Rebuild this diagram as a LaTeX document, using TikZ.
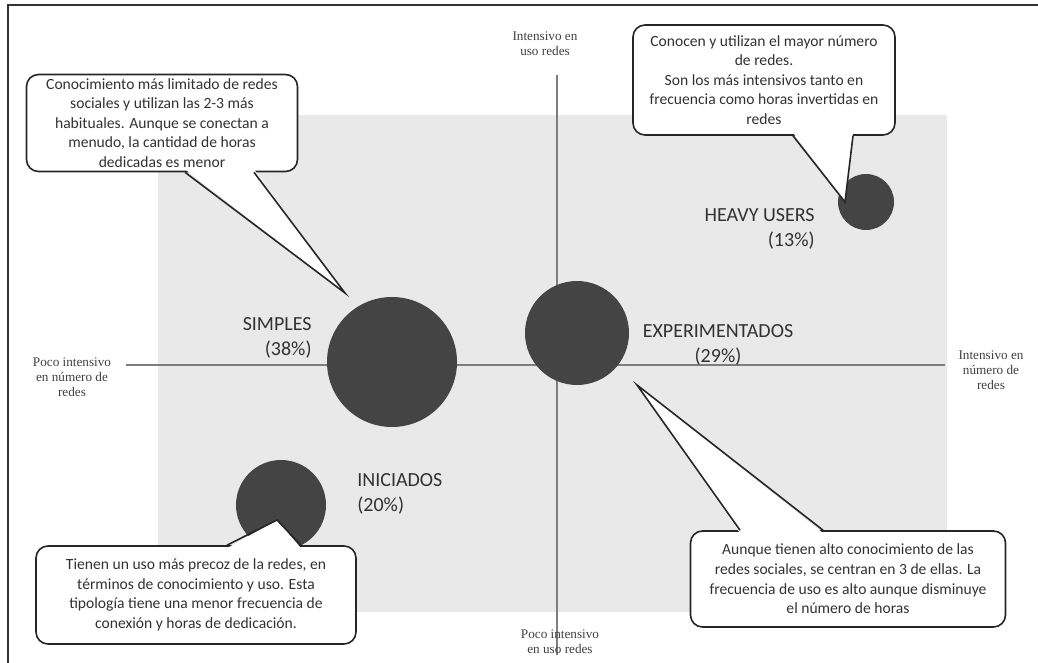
\documentclass[tikz,border=0pt]{standalone}
\usepackage{fontspec}
\setmainfont{Carlito}
\newfontfamily\axisfont{Liberation Serif}
\usetikzlibrary{positioning,calc}
\definecolor{quadgray}{RGB}{233,233,233}
\definecolor{dotgray}{RGB}{68,68,68}
\definecolor{axisgray}{RGB}{125,125,125}
\definecolor{inkgray}{RGB}{50,50,50}

\begin{document}
\begin{tikzpicture}[x=0.5pt, y=-0.5pt,
  dot/.style={circle, fill=dotgray, inner sep=0pt},
  group/.style={font=\fontsize{10}{12.8}\selectfont, text=inkgray, inner sep=0pt},
  bubble/.style={draw=black!85, line width=0.8pt, rounded corners=6pt, fill=white,
                 align=center, inner sep=0pt, text=inkgray,
                 font=\fontsize{7.8}{9.8}\selectfont},
  tail/.style={draw=black!85, line width=0.8pt},
  axislbl/.style={font=\axisfont\fontsize{6.6}{7.6}\selectfont, align=center,
                  text=black!75, inner sep=0pt}]

\useasboundingbox (0,0) rectangle (1038,663);
% frame (top and left side only)
\draw[line width=1.4pt, black!80] (8,663) -- (8,5) -- (1038,5);

% quadrant background
\fill[quadgray] (158,115) rectangle (947,612);

% axes
\coordinate (xleft) at (126,365);
\coordinate (xright) at (945,365);
\coordinate (ytop) at (557,75);
\coordinate (ybot) at (557,655);
\draw[axisgray, line width=1.2pt] (xleft) -- (xright);
\draw[axisgray, line width=1.2pt] (ytop) -- (ybot);

\node[axislbl] (toplbl) at (545,44) {Intensivo en\\uso redes};
\node[axislbl] (leftlbl) at (72,377) {Poco intensivo\\en número de\\redes};
\node[axislbl] (rightlbl) at (991,370) {Intensivo en\\número de\\redes};
\node[axislbl] (botlbl) at (560,642) {Poco intensivo\\en uso redes};

% segments
\node[dot, minimum size=65pt] (simples) at (392,362) {};
\node[dot, minimum size=52pt] (exp) at (577,333) {};
\node[dot, minimum size=28pt] (heavy) at (866,202) {};
\node[dot, minimum size=45pt] (iniciados) at (281,505) {};

\node[group, align=right, anchor=east] (simpleslbl) at (312,338) {SIMPLES\\(38\%)};
\node[group, align=center] (explbl) at (718,345) {EXPERIMENTADOS\\(29\%)};
\node[group, align=right, anchor=east] (heavylbl) at (815,229) {HEAVY USERS\\(13\%)};
\node[group, align=left, anchor=west] (iniciadoslbl) at (357,494) {INICIADOS\\(20\%)};

% callouts
\node[bubble, minimum width=135.5pt, minimum height=48.5pt] (simplesnote) at (162,123)
  {Conocimiento más limitado de redes\\sociales y utilizan las 2-3 más\\habituales. Aunque se conectan a\\menudo, la cantidad de horas\\dedicadas es menor};
\coordinate (simplestip) at (345,293);
\fill[white] ($(simplesnote.south)+(23,-3)$) -- (simplestip) -- ($(simplesnote.south)+(92,-3)$) -- cycle;
\draw[tail] ($(simplesnote.south)+(23,0)$) -- (simplestip) -- ($(simplesnote.south)+(92,0)$);

\node[bubble, minimum width=131pt, minimum height=55pt] (heavynote) at (764,80)
  {Conocen y utilizan el mayor número\\de redes.\\Son los más intensivos tanto en\\frecuencia como horas invertidas en\\redes};
\coordinate (heavytip) at (845,202);
\fill[white] ($(heavynote.south)+(29,-3)$) -- (heavytip) -- ($(heavynote.south)+(89,-3)$) -- cycle;
\draw[tail] ($(heavynote.south)+(29,0)$) -- (heavytip) -- ($(heavynote.south)+(89,0)$);

\node[bubble, minimum width=160pt, minimum height=49pt] (iniciadosnote) at (196,595)
  {Tienen un uso más precoz de la redes, en\\términos de conocimiento y uso. Esta\\tipología tiene una menor frecuencia de\\conexión y horas de dedicación.};
\coordinate (iniciadostip) at (277,520);
\fill[white] ($(iniciadosnote.north)+(31,3)$) -- (iniciadostip) -- ($(iniciadosnote.north)+(105,3)$) -- cycle;
\draw[tail] ($(iniciadosnote.north)+(31,0)$) -- (iniciadostip) -- ($(iniciadosnote.north)+(105,0)$);

\node[bubble, minimum width=157.5pt, minimum height=48pt] (expnote) at (848,579)
  {Aunque tienen alto conocimiento de las\\redes sociales, se centran en 3 de ellas. La\\frecuencia de uso es alto aunque disminuye\\el número de horas};
\coordinate (exptip) at (637,385);
\fill[white] ($(expnote.north)+(-108,3)$) -- (exptip) -- ($(expnote.north)+(-25,3)$) -- cycle;
\draw[tail] ($(expnote.north)+(-108,0)$) -- (exptip) -- ($(expnote.north)+(-25,0)$);
\end{tikzpicture}
\end{document}
